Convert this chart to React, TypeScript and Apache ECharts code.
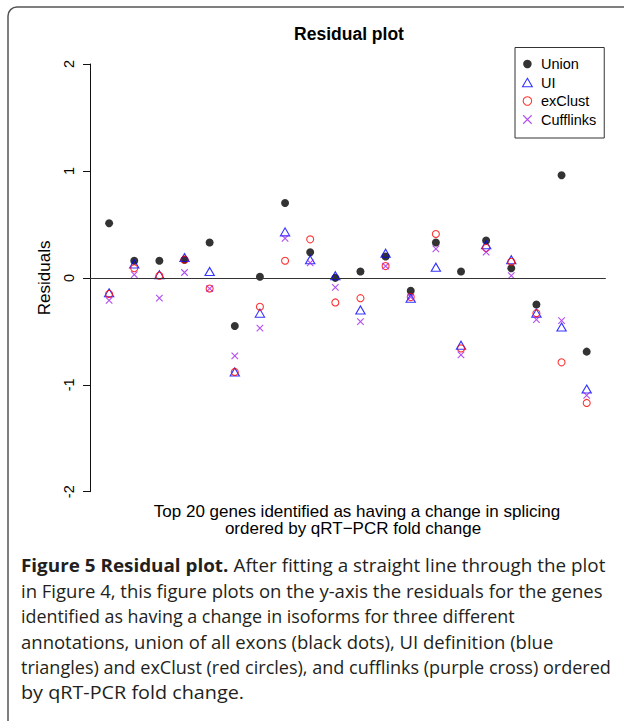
import React, { useEffect, useRef } from "react";
import * as echarts from "echarts";

// Genes ranked by qRT-PCR fold change
const geneRank = [1, 2, 3, 4, 5, 6, 7, 8, 9, 10, 11, 12, 13, 14, 15, 16, 17, 18, 19, 20];

const unionResiduals = [0.51, 0.16, 0.16, 0.17, 0.33, -0.45, 0.01, 0.7, 0.24, 0.0, 0.06, 0.2, -0.12, 0.33, 0.06, 0.35, 0.09, -0.25, 0.96, -0.69];
const uiResiduals = [-0.14, 0.13, 0.03, 0.19, 0.06, -0.88, -0.33, 0.43, 0.17, 0.02, -0.3, 0.23, -0.19, 0.1, -0.63, 0.31, 0.17, -0.33, -0.46, -1.04];
const exClustResiduals = [-0.15, 0.09, 0.02, 0.17, -0.1, -0.88, -0.27, 0.16, 0.36, -0.23, -0.19, 0.11, -0.18, 0.41, -0.66, 0.28, 0.15, -0.33, -0.79, -1.17];
const cufflinksResiduals = [-0.21, 0.03, -0.19, 0.05, -0.1, -0.73, -0.47, 0.37, 0.14, -0.09, -0.41, 0.11, -0.18, 0.27, -0.72, 0.24, 0.02, -0.39, -0.4, -1.1];

const seriesNames = ["Union", "UI", "exClust", "Cufflinks"];

const titleText = "Residual plot";
const yAxisTitle = "Residuals";
const xAxisTitleLines = [
  "Top 20 genes identified as having a change in splicing",
  "ordered by qRT\u2212PCR fold change",
];
const captionBold = "Figure 5 Residual plot.";
const captionLines = [
  " After fitting a straight line through the plot",
  "in Figure 4, this figure plots on the y-axis the residuals for the genes",
  "identified as having a change in isoforms for three different",
  "annotations, union of all exons (black dots), UI definition (blue",
  "triangles) and exClust (red circles), and cufflinks (purple cross) ordered",
  "by qRT-PCR fold change.",
];

const CROSS = "path://M0,0L10,10M10,0L0,10";
const TRIANGLE = "path://M5,0L10,8.66L0,8.66Z";
const AXIS_FONT = "'Liberation Sans', Arial, Helvetica, sans-serif";
const CAPTION_FONT = "'Open Sans', 'Noto Sans', sans-serif";

export default function App() {
  const ref = useRef<HTMLDivElement>(null);

  useEffect(() => {
    document.body.style.margin = "0";
    const chart = echarts.init(ref.current!, null, { renderer: "svg" });

    const toPairs = (vals: number[]) => geneRank.map((g, i) => [g, vals[i]]);

    const captionY = [565, 590.5, 615.5, 641, 666.5, 692];
    const captionScale = [1.02, 1.0, 0.967, 1.0, 0.975, 1.07];
    const captionGraphics = captionLines.map((line, i) => ({
      type: "text",
      x: 21,
      y: captionY[i],
      scaleX: captionScale[i],
      silent: true,
      style: {
        text: i === 0 ? `{b|${captionBold}}${line}` : line,
        fontFamily: CAPTION_FONT,
        fontSize: 18.5,
        fill: "#231f20",
        align: "left",
        verticalAlign: "middle",
        rich: {
          b: {
            fontFamily: CAPTION_FONT,
            fontSize: 18.5,
            fontWeight: "bold",
            fill: "#231f20",
          },
        },
      },
    }));

    const option: any = {
      animation: false,
      backgroundColor: "#ffffff",
      grid: { left: 90, right: 18.2, top: 64, bottom: 229.3, containLabel: false },
      xAxis: {
        type: "value",
        min: 0.24,
        max: 20.76,
        show: false,
      },
      yAxis: {
        type: "value",
        min: -2,
        max: 2,
        interval: 1,
        name: yAxisTitle,
        nameLocation: "middle",
        nameRotate: 90,
        nameGap: 35,
        nameTextStyle: { fontFamily: AXIS_FONT, fontSize: 17, color: "#000" },
        axisLine: { show: true, lineStyle: { color: "#111", width: 1 } },
        axisTick: { show: true, length: 7, lineStyle: { color: "#111", width: 1 } },
        axisLabel: {
          rotate: 90,
          margin: 14,
          fontFamily: AXIS_FONT,
          fontSize: 14.5,
          color: "#000",
        },
        splitLine: { show: false },
      },
      legend: {
        orient: "vertical",
        left: 515,
        top: 47.5,
        padding: [9, 8, 11, 5],
        itemWidth: 17,
        itemHeight: 8.5,
        itemGap: 3.5,
        symbolKeepAspect: true,
        borderColor: "#333",
        borderWidth: 1,
        borderRadius: 0,
        textStyle: { fontFamily: AXIS_FONT, fontSize: 14.5, color: "#000" },
        data: [
          { name: seriesNames[0], icon: "circle", itemStyle: { color: "#000", borderWidth: 0 } },
          { name: seriesNames[1], icon: TRIANGLE, itemStyle: { color: "none", borderColor: "#0000ff", borderWidth: 1.1 } },
          { name: seriesNames[2], icon: "circle", itemStyle: { color: "none", borderColor: "#ff0000", borderWidth: 1.1 } },
          { name: seriesNames[3], icon: CROSS, itemStyle: { color: "none", borderColor: "#a020f0", borderWidth: 1.1 } },
        ],
      },
      series: [
        {
          name: seriesNames[0],
          type: "scatter",
          data: toPairs(unionResiduals),
          symbol: "circle",
          symbolSize: 8,
          itemStyle: { color: "#000" },
          markLine: {
            silent: true,
            symbol: "none",
            label: { show: false },
            lineStyle: { color: "#333", width: 1, type: "solid" },
            data: [{ yAxis: 0 }],
          },
        },
        {
          name: seriesNames[1],
          type: "scatter",
          data: toPairs(uiResiduals),
          symbol: "triangle",
          symbolSize: [9.3, 8],
          itemStyle: { color: "none", borderColor: "#0000ff", borderWidth: 1.1 },
        },
        {
          name: seriesNames[2],
          type: "scatter",
          data: toPairs(exClustResiduals),
          symbol: "circle",
          symbolSize: 7,
          itemStyle: { color: "none", borderColor: "#ff0000", borderWidth: 1.1 },
        },
        {
          name: seriesNames[3],
          type: "scatter",
          data: toPairs(cufflinksResiduals),
          symbol: CROSS,
          symbolSize: 6.5,
          itemStyle: { color: "none", borderColor: "#a020f0", borderWidth: 1.1 },
        },
      ],
      graphic: [
        {
          type: "rect",
          silent: true,
          z: -10,
          shape: { x: 8, y: 7, width: 700, height: 800, r: 9 },
          style: { fill: "none", stroke: "#555", lineWidth: 1.5 },
        },
        {
          type: "text",
          x: 349,
          y: 33.5,
          silent: true,
          style: {
            text: titleText,
            fontFamily: AXIS_FONT,
            fontWeight: "bold",
            fontSize: 17.5,
            fill: "#000",
            align: "center",
            verticalAlign: "middle",
          },
        },
        {
          type: "text",
          x: 357,
          y: 511,
          silent: true,
          style: {
            text: xAxisTitleLines[0],
            fontFamily: AXIS_FONT,
            fontSize: 17,
            fill: "#000",
            align: "center",
            verticalAlign: "middle",
          },
        },
        {
          type: "text",
          x: 353,
          y: 528.5,
          silent: true,
          style: {
            text: xAxisTitleLines[1],
            fontFamily: AXIS_FONT,
            fontSize: 17,
            fill: "#000",
            align: "center",
            verticalAlign: "middle",
          },
        },
        ...captionGraphics,
      ],
    };

    chart.setOption(option);
    return () => chart.dispose();
  }, []);

  return <div ref={ref} style={{ width: 624, height: 721 }} />;
}
